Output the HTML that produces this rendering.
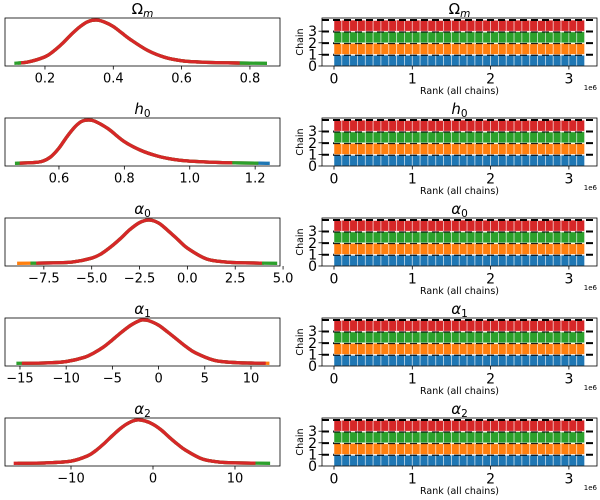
<!DOCTYPE html>
<html><head><meta charset="utf-8">
<style>
html,body{margin:0;padding:0;background:#fff;}
svg{display:block;font-family:"DejaVu Sans","Liberation Sans",sans-serif;}
</style></head>
<body>
<svg id="fig" width="600" height="500" viewBox="0 0 600 500" xmlns="http://www.w3.org/2000/svg"></svg>
<script>
// ---- data ----
const paramNames = ["Omega_m","h_0","alpha_0","alpha_1","alpha_2"];
const xDomains = [[0.083,0.888],[0.435,1.276],[-9.53,4.84],[-16.62,13.14],[-18.05,15.49]];
const xTickValues = [[0.2,0.4,0.6,0.8],[0.6,0.8,1.0,1.2],[-7.5,-5,-2.5,0,2.5,5],[-15,-10,-5,0,5,10],[-10,0,10]];
const xTickLabels = [["0.2","0.4","0.6","0.8"],["0.6","0.8","1.0","1.2"],["\u22127.5","\u22125.0","\u22122.5","0.0","2.5","5.0"],["\u221215","\u221210","\u22125","0","5","10"],["\u221210","0","10"]];
const densX0 = [0.11,0.15,0.2,0.225,0.25,0.275,0.3,0.325,0.35,0.375,0.4,0.425,0.45,0.5,0.55,0.6,0.65,0.7,0.77,0.85];
const densY0 = [0,0.03,0.15,0.28,0.45,0.65,0.83,0.96,1.0,0.95,0.85,0.7,0.55,0.3,0.14,0.06,0.03,0.015,0.005,0];
const densX1 = [0.465,0.52,0.55,0.575,0.6,0.625,0.65,0.67,0.69,0.71,0.75,0.8,0.85,0.9,0.95,1.0,1.1,1.245];
const densY1 = [0,0.015,0.05,0.15,0.35,0.62,0.85,0.97,1.0,0.97,0.8,0.5,0.3,0.17,0.09,0.05,0.015,0];
const densX2 = [-8.9,-7,-6,-5,-4.5,-4,-3.5,-3,-2.5,-2,-1.5,-1,-0.5,0,1,2,3,4.7];
const densY2 = [0,0.01,0.03,0.12,0.22,0.38,0.57,0.78,0.94,1.0,0.93,0.75,0.55,0.35,0.1,0.03,0.01,0];
const densX3 = [-15.4,-12,-10,-8,-7,-6,-5,-4,-3,-2,-1.5,-1,0,1,2,3,4,6,8,10,12];
const densY3 = [0,0.01,0.04,0.14,0.24,0.37,0.54,0.72,0.88,0.99,1.0,0.98,0.88,0.72,0.55,0.38,0.24,0.07,0.02,0.005,0];
const densX4 = [-17,-13,-10,-8,-7,-6,-5,-4,-3,-2,-1,0,1,2,3,4,6,8,10,14.3];
const densY4 = [0,0.01,0.05,0.17,0.29,0.45,0.63,0.8,0.93,1.0,0.98,0.9,0.77,0.6,0.44,0.3,0.1,0.03,0.01,0];
// chain extents [blue, orange, green, red]
const chainExtents = [
 [[0.12,0.8],[0.12,0.8],[0.11,0.85],[0.13,0.77]],
 [[0.47,1.245],[0.47,1.2],[0.465,1.21],[0.48,1.13]],
 [[-8.0,4.0],[-8.9,4.0],[-8.2,4.7],[-7.9,3.9]],
 [[-14.8,11.5],[-14.8,12.0],[-15.4,11.5],[-14.8,11.6]],
 [[-16.5,12.5],[-16.5,12.5],[-16.5,14.3],[-17,12.5]]
];
const rankTicks = [0,1,2,3];
const chainTicks = [0,1,2,3];
const binWidth = 0.1; // in 1e6 units
const rankBlue   = [0.93,0.95,0.92,0.94,0.96,0.93,0.94,0.92,0.95,0.93,0.94,0.96,0.92,0.94,0.93,0.95,0.94,0.92,0.95,0.93,0.96,0.94,0.92,0.93,0.95,0.94,0.93,0.96,0.92,0.94,0.95,0.93];
const rankOrange = [0.94,0.92,0.95,0.93,0.94,0.96,0.92,0.95,0.93,0.94,0.92,0.95,0.94,0.93,0.96,0.92,0.94,0.95,0.93,0.94,0.92,0.95,0.96,0.93,0.94,0.92,0.95,0.93,0.94,0.96,0.92,0.94];
const rankGreen  = [0.95,0.93,0.94,0.92,0.95,0.94,0.96,0.93,0.92,0.95,0.94,0.93,0.95,0.96,0.92,0.94,0.93,0.95,0.94,0.92,0.95,0.93,0.94,0.96,0.92,0.95,0.94,0.93,0.95,0.92,0.94,0.96];
const rankRed    = [0.92,0.94,0.96,0.95,0.93,0.92,0.95,0.94,0.96,0.92,0.95,0.94,0.93,0.92,0.95,0.93,0.96,0.94,0.92,0.95,0.94,0.96,0.93,0.95,0.94,0.93,0.92,0.95,0.94,0.93,0.96,0.95];

const densXs=[densX0,densX1,densX2,densX3,densX4];
const densYs=[densY0,densY1,densY2,densY3,densY4];
const rankSets=[rankBlue,rankOrange,rankGreen,rankRed];
const colors=["#1f77b4","#ff7f0e","#2ca02c","#d62728"];
const NS="http://www.w3.org/2000/svg";
const svg=document.getElementById('fig');
function el(tag,attrs,parent){const e=document.createElementNS(NS,tag);for(const k in attrs)e.setAttribute(k,attrs[k]);(parent||svg).appendChild(e);return e;}

function title(g,cx,y,i){
  const t=el('text',{x:cx,y:y,'text-anchor':'middle','font-size':'15'},g);
  
  
  const s1=document.createElementNS(NS,'tspan');
  const s2=document.createElementNS(NS,'tspan');
  if(i===0){s1.textContent='\u03A9';s2.textContent='m';}
  else if(i===1){s1.textContent='h';s1.setAttribute('font-style','italic');s2.textContent='0';}
  else{s1.textContent='\u03B1';s1.setAttribute('font-style','italic');s2.textContent=String(i-2);}
  if(i===0)s2.setAttribute('font-style','italic');
  s2.setAttribute('font-size','10.5');s2.setAttribute('dy','3');
  t.appendChild(s1);t.appendChild(s2);
}

function smoothPath(pts){
  let d='M'+pts[0][0]+','+pts[0][1];
  for(let i=0;i<pts.length-1;i++){
    const p0=pts[Math.max(0,i-1)],p1=pts[i],p2=pts[i+1],p3=pts[Math.min(pts.length-1,i+2)];
    const c1=[p1[0]+(p2[0]-p0[0])/6,p1[1]+(p2[1]-p0[1])/6];
    const c2=[p2[0]-(p3[0]-p1[0])/6,p2[1]-(p3[1]-p1[1])/6];
    d+=' C'+c1[0]+','+c1[1]+' '+c2[0]+','+c2[1]+' '+p2[0]+','+p2[1];
  }
  return d;
}

for(let i=0;i<5;i++){
  const top=18+i*100, bot=top+48;
  // ---------- left density panel ----------
  const L={x0:5,x1:280};
  const xs=v=>L.x0+(v-xDomains[i][0])/(xDomains[i][1]-xDomains[i][0])*(L.x1-L.x0);
  const ys=v=>(top+45.3)-v*43.3;
  const gl=el('g',{});
  
  
  title(gl,142.5,top-4,i);
  const pts=densXs[i].map((x,k)=>[xs(x),ys(densYs[i][k])]);
  const d=smoothPath(pts);
  for(let c=0;c<4;c++){
    const cp=el('clipPath',{id:'cp'+i+'_'+c},gl);
    const a=xs(chainExtents[i][c][0]),b=xs(chainExtents[i][c][1]);
    el('rect',{x:a,y:top-5,width:b-a,height:60},cp);
    const p=el('path',{d:d,fill:'none',stroke:colors[c],'stroke-width':'3.3','stroke-linejoin':'round','clip-path':'url(#cp'+i+'_'+c+')'},gl);
    
    
  }
  const fr=el('rect',{x:L.x0,y:top,width:L.x1-L.x0,height:48,fill:'none',stroke:'#000','stroke-width':'0.8'},gl);
  
  
  xTickValues[i].forEach((v,k)=>{
    const x=xs(v);
    el('line',{x1:x,x2:x,y1:bot,y2:bot+3.5,stroke:'#000','stroke-width':'0.8'},gl);
    const t=el('text',{x:x,y:bot+16.5,'text-anchor':'middle','font-size':'13'},gl);
    t.textContent=xTickLabels[i][k];
    
    
  });
  // ---------- right rank panel ----------
  const R={x0:322,x1:597};
  const rx=v=>334+v*78.3;
  const ry=v=>bot-v*11.6;
  const gr=el('g',{});
  
  
  title(gr,459.5,top-4,i);
  for(let c=0;c<4;c++){
    rankSets[c].forEach((h,k)=>{
      const xa=rx(k*binWidth),xb=rx((k+1)*binWidth);
      const r=el('rect',{x:xa,y:ry(c+h),width:xb-xa,height:ry(c)-ry(c+h),fill:colors[c],stroke:'#fff','stroke-opacity':'0.6','stroke-width':'0.8'},gr);
      
      
    });
    const dl=el('line',{x1:R.x0,x2:R.x1,y1:ry(c+0.97),y2:ry(c+0.97),stroke:'#000','stroke-width':'2','stroke-dasharray':'7,4'},gr);
    
    
  }
  const fr2=el('rect',{x:R.x0,y:top,width:R.x1-R.x0,height:48,fill:'none',stroke:'#000','stroke-width':'0.8'},gr);
  
  
  rankTicks.forEach(v=>{
    const x=rx(v);
    el('line',{x1:x,x2:x,y1:bot,y2:bot+3.5,stroke:'#000','stroke-width':'0.8'},gr);
    const t=el('text',{x:x,y:bot+17.5,'text-anchor':'middle','font-size':'14'},gr);
    t.textContent=String(v);
    
    
  });
  chainTicks.forEach(v=>{
    const y=ry(v);
    el('line',{x1:R.x0-3.5,x2:R.x0,y1:y,y2:y,stroke:'#000','stroke-width':'0.8'},gr);
    const t=el('text',{x:R.x0-5,y:y+5,'text-anchor':'end','font-size':'14'},gr);
    t.textContent=String(v);
    
    
  });
  const yl=el('text',{x:0,y:0,'text-anchor':'middle','font-size':'9.5',transform:'translate(303,'+(top+24)+') rotate(-90)'},gr);
  yl.textContent='Chain';
  
  
  const xl=el('text',{x:459.5,y:bot+28,'text-anchor':'middle','font-size':'9.5'},gr);
  xl.textContent='Rank (all chains)';
  
  
  const off=el('text',{x:597,y:bot+24,'text-anchor':'end','font-size':'7'},gr);
  off.textContent='1e6';
  
  
}
</script>
</body></html>
